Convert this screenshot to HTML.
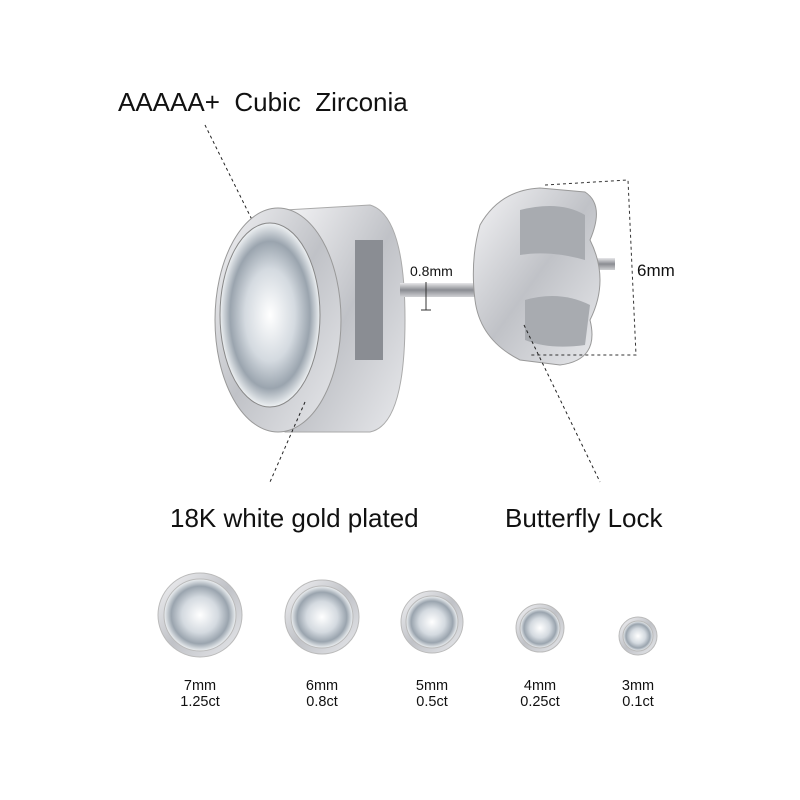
<!DOCTYPE html>
<html><head><meta charset="utf-8"><style>
html,body{margin:0;padding:0;background:#fff;}
svg{display:block}
text{font-family:"Liberation Sans",Arial,sans-serif;fill:#111}
</style></head><body>
<svg width="800" height="800" viewBox="0 0 800 800" xmlns="http://www.w3.org/2000/svg">
<defs>
<radialGradient id="gem" cx="50%" cy="50%" r="50%">
<stop offset="0" stop-color="#ffffff"/><stop offset="0.5" stop-color="#d4dae0"/><stop offset="0.8" stop-color="#9aa4ae"/><stop offset="1" stop-color="#eef1f3"/>
</radialGradient>
<linearGradient id="metal" x1="0" y1="0" x2="1" y2="1">
<stop offset="0" stop-color="#f4f4f6"/><stop offset="0.5" stop-color="#c0c2c7"/><stop offset="1" stop-color="#e8e9ec"/>
</linearGradient>
<linearGradient id="post" x1="0" y1="0" x2="0" y2="1">
<stop offset="0" stop-color="#e8e8ea"/><stop offset="0.5" stop-color="#8a8c92"/><stop offset="1" stop-color="#d0d1d4"/>
</linearGradient>
</defs>

<text x="118" y="111" font-size="26">AAAAA+&#160; Cubic&#160; Zirconia</text>
<line x1="205" y1="125" x2="262" y2="240" stroke="#222" stroke-width="1" stroke-dasharray="3,3"/>

<path d="M285 210 L370 205 Q405 215 405 320 Q405 425 370 432 L285 432 Z" fill="url(#metal)" stroke="#aaa"/>
<rect x="355" y="240" width="28" height="120" fill="#8a8d93"/>
<rect x="400" y="283" width="130" height="14" fill="url(#post)"/>
<rect x="560" y="258" width="55" height="12" fill="url(#post)"/>
<ellipse cx="278" cy="320" rx="63" ry="112" fill="url(#metal)" stroke="#999"/>
<ellipse cx="270" cy="315" rx="50" ry="92" fill="url(#gem)" stroke="#888"/>
<path d="M480 225 Q500 190 540 188 L585 192 Q605 205 590 240 Q610 280 590 320 Q600 360 560 365 L520 360 Q480 340 475 300 Q470 260 480 225 Z" fill="url(#metal)" stroke="#999"/>
<path d="M520 210 Q560 200 585 215 L585 260 Q550 250 520 255 Z" fill="#a8abb0"/>
<path d="M525 300 Q560 290 590 305 L585 345 Q550 350 525 340 Z" fill="#a8abb0"/>

<path d="M545 185 L628 180 L636 355 L530 355" fill="none" stroke="#333" stroke-dasharray="3,3"/>
<text x="637" y="276" font-size="17">6mm</text>
<text x="410" y="276" font-size="14">0.8mm</text>
<line x1="426" y1="282" x2="426" y2="310" stroke="#333"/>
<line x1="421" y1="310" x2="431" y2="310" stroke="#333"/>

<line x1="524" y1="325" x2="600" y2="482" stroke="#222" stroke-dasharray="3,3"/>
<line x1="305" y1="402" x2="270" y2="482" stroke="#222" stroke-dasharray="3,3"/>

<text x="170" y="527" font-size="26">18K white gold plated</text>
<text x="505" y="527" font-size="26">Butterfly Lock</text>

<g stroke="#bbb">
<circle cx="200" cy="615" r="42" fill="url(#metal)"/><circle cx="200" cy="615" r="36" fill="url(#gem)"/>
<circle cx="322" cy="617" r="37" fill="url(#metal)"/><circle cx="322" cy="617" r="31" fill="url(#gem)"/>
<circle cx="432" cy="622" r="31" fill="url(#metal)"/><circle cx="432" cy="622" r="26" fill="url(#gem)"/>
<circle cx="540" cy="628" r="24" fill="url(#metal)"/><circle cx="540" cy="628" r="20" fill="url(#gem)"/>
<circle cx="638" cy="636" r="19" fill="url(#metal)"/><circle cx="638" cy="636" r="15" fill="url(#gem)"/>
</g>
<g font-size="14.5" text-anchor="middle">
<text x="200" y="690">7mm</text><text x="200" y="706">1.25ct</text>
<text x="322" y="690">6mm</text><text x="322" y="706">0.8ct</text>
<text x="432" y="690">5mm</text><text x="432" y="706">0.5ct</text>
<text x="540" y="690">4mm</text><text x="540" y="706">0.25ct</text>
<text x="638" y="690">3mm</text><text x="638" y="706">0.1ct</text>
</g>
</svg>
</body></html>
